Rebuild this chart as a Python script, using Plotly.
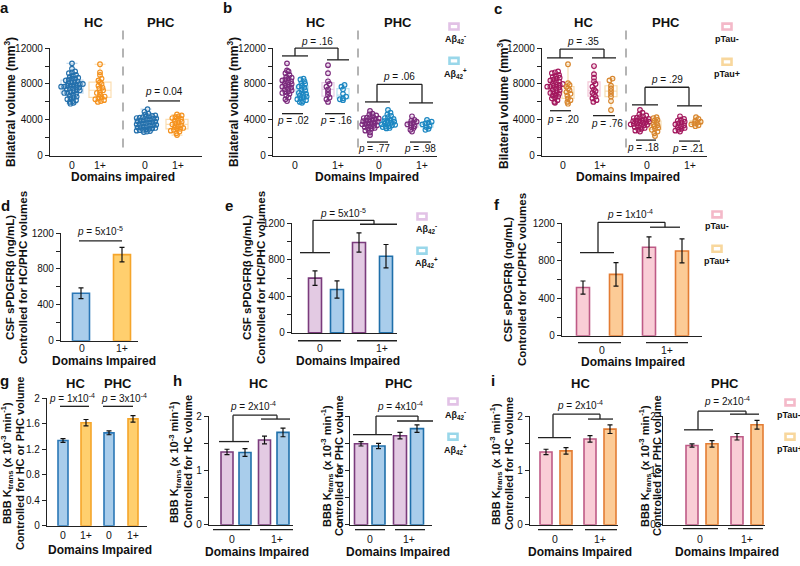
import numpy as np
import plotly.graph_objects as go

# ---------------- data ----------------
x_cats = ["0", "1+", "0", "1+"]

# panel a: bilateral volume (mm^3)
a_hc_0 = [10300, 9700, 9400, 9300, 9200, 9000, 8900, 8800, 8700, 8600, 8600, 8500, 8400, 8300, 8200, 8200,
          8100, 8000, 8000, 7900, 7900, 7800, 7800, 7700, 7700, 7600, 7600, 7500, 7500, 7400, 7300, 7300,
          7200, 7100, 7000, 7000, 6900, 6800, 6700, 6600, 6500, 6400, 6300, 6200, 6100, 6000, 5900, 5800]
a_hc_1 = [10200, 9300, 9000, 8600, 8400, 8200, 8000, 7800, 7600, 7500, 7300, 7100, 7000, 6800, 6600,
          6500, 6400, 6300, 6200, 6100, 6000]
a_phc_0 = [5200, 4900, 4700, 4600, 4500, 4450, 4400, 4350, 4300, 4250, 4200, 4150, 4100, 4050, 4000, 3950,
           3900, 3850, 3800, 3750, 3700, 3650, 3600, 3550, 3500, 3450, 3400, 3350, 3300, 3250, 3200, 3150,
           3100, 3050, 3000, 2950, 2900, 2850, 2800, 2750, 2700, 2650]
a_phc_1 = [4600, 4500, 4400, 4300, 4200, 4100, 4000, 3900, 3800, 3700, 3600, 3500, 3400, 3300, 3200,
           3100, 3000, 3000, 2900, 2800, 2700, 2500, 2300]

# panel b: by Abeta42 status (neg / pos)
b_hc0_neg = [10300, 9500, 9400, 9200, 9000, 8800, 8700, 8600, 8500, 8400, 8300, 8200, 8100, 8000, 7900,
             7800, 7700, 7600, 7500, 7400, 7300, 7200, 7100, 7000, 6900, 6700, 6500, 6300, 6100]
b_hc0_pos = [8600, 8500, 8300, 8100, 8000, 7800, 7700, 7600, 7400, 7300, 7100, 7000, 6900, 6800, 6700,
             6600, 6500, 6400, 6300, 6200, 6100, 6000, 5900]
b_hc1_neg = [10100, 9200, 8300, 8000, 7700, 7400, 7100, 6800, 6500, 6300, 6000]
b_hc1_pos = [7900, 7700, 7400, 6900, 6600, 6400, 6300, 6200]
b_phc0_neg = [5000, 4700, 4600, 4500, 4400, 4300, 4250, 4200, 4150, 4100, 4000, 3950, 3900, 3850, 3800,
              3700, 3650, 3600, 3550, 3500, 3400, 3350, 3300, 3250, 3200, 3100, 3000, 2900, 2800, 2600, 2300]
b_phc0_pos = [5100, 4800, 4600, 4450, 4300, 4200, 4100, 4000, 3900, 3850, 3800, 3700, 3650, 3600, 3500,
              3450, 3400, 3300, 3250, 3200, 3100, 3050]
b_phc1_neg = [4400, 4000, 3900, 3800, 3700, 3600, 3500, 3300, 3200, 3100, 2900, 2700]
b_phc1_pos = [4000, 3800, 3700, 3600, 3500, 3300, 3200, 3000, 2900]

# panel c: by pTau status (neg / pos)
c_hc0_neg = [9400, 9300, 9200, 9000, 8900, 8800, 8700, 8600, 8500, 8400, 8300, 8200, 8100, 8000, 7900,
             7900, 7800, 7700, 7700, 7600, 7500, 7400, 7300, 7200, 7100, 7000, 6900, 6800, 6700, 6600,
             6500, 6400, 6200, 6000, 5900]
c_hc0_pos = [10200, 8100, 7900, 7700, 7500, 7300, 7100, 6900, 6700, 6400, 6200, 6000, 5800]
c_hc1_neg = [10000, 9100, 8700, 8300, 8000, 7700, 7400, 7200, 7000, 6800, 6600, 6400, 6200, 6000]
c_hc1_pos = [8600, 8400, 7800, 7500, 7200, 6900, 6600, 6100, 5100]
c_phc0_neg = [5100, 4800, 4600, 4500, 4400, 4300, 4250, 4200, 4100, 4050, 4000, 3950, 3900, 3850, 3800,
              3750, 3700, 3650, 3600, 3550, 3500, 3450, 3400, 3350, 3300, 3200, 3100, 3000, 2900, 2800, 2700]
c_phc0_pos = [4300, 4200, 4000, 3900, 3700, 3500, 3400, 3300, 3100, 3000, 2900, 2700, 2500, 2200]
c_phc1_neg = [4400, 4100, 4000, 3900, 3800, 3700, 3600, 3500, 3400, 3300, 3200, 3100, 3000, 2900, 2800, 2700]
c_phc1_pos = [4300, 4100, 3900, 3800, 3700, 3600, 3500, 3400, 3300]

# panel d: CSF sPDGFRb (ng/mL)
d_mean = [530, 960]
d_err = [60, 80]
# panel e: Abeta42- / Abeta42+
e_neg_mean = [600, 990]
e_neg_err = [80, 105]
e_pos_mean = [475, 840]
e_pos_err = [95, 128]
# panel f: pTau- / pTau+
f_neg_mean = [515, 945]
f_neg_err = [70, 110]
f_pos_mean = [655, 905]
f_pos_err = [125, 128]
# panel g: BBB Ktrans, HC and PHC, 0 / 1+
g_mean = [1.34, 1.62, 1.46, 1.68]
g_err = [0.03, 0.05, 0.03, 0.05]
# panel h
h_hc_neg_mean = [1.34, 1.56]
h_hc_neg_err = [0.05, 0.07]
h_hc_pos_mean = [1.33, 1.70]
h_hc_pos_err = [0.07, 0.08]
h_phc_neg_mean = [1.49, 1.64]
h_phc_neg_err = [0.04, 0.06]
h_phc_pos_mean = [1.45, 1.77]
h_phc_pos_err = [0.05, 0.07]
# panel i
i_hc_neg_mean = [1.34, 1.58]
i_hc_neg_err = [0.05, 0.06]
i_hc_pos_mean = [1.36, 1.76]
i_hc_pos_err = [0.06, 0.08]
i_phc_neg_mean = [1.46, 1.62]
i_phc_neg_err = [0.03, 0.06]
i_phc_pos_mean = [1.49, 1.84]
i_phc_pos_err = [0.06, 0.08]

# ---------------- style ----------------
W, H = 800, 566
FONT = "Arial, 'Liberation Sans', sans-serif"
AX = "#222222"
TXT = "#111111"

A_BLUE, A_ORANGE = "#2470AC", "#F5921E"
A_BLUE_BOX, A_ORANGE_BOX = "#C6DCEE", "#FBDDB0"
B_PURPLE, B_BLUE = "#7B2B7D", "#1C87C2"
B_PURPLE_BOX, B_BLUE_BOX = "#E6CCE6", "#B9E2F1"
C_MAG, C_ORANGE = "#A3185E", "#D8862E"
C_MAG_BOX, C_ORANGE_BOX = "#F3C6D5", "#F6DCB0"

BLUE_FILL, BLUE_EDGE = "#A9CDEB", "#2A77B6"
ORANGE_FILL, ORANGE_EDGE = "#FFCF6E", "#F5A52A"
PURPLE_FILL, PURPLE_EDGE = "#E3CAE3", "#7A3B7C"
BLUE2_FILL, BLUE2_EDGE = "#A9CDEB", "#1F6FAA"
PINK_FILL, PINK_EDGE = "#F9CDD6", "#BE5A86"
ORANGE2_FILL, ORANGE2_EDGE = "#FCCB96", "#E37C33"

LEG_PURPLE, LEG_BLUE = "#E2C2E6", "#99D7EA"
LEG_PINK, LEG_ORANGE = "#F4B9C9", "#F8D79D"


def X(p):
    return p / W


def Y(p):
    return 1 - p / H


# pixel boxes of plot areas: left, right, top, bottom
PANELS = {
    'a': (50, 202, 43, 153),
    'b': (273, 437, 43, 153),
    'c': (542, 707, 43, 153),
    'd': (61, 138, 232, 342),
    'e': (292, 397, 222, 334),
    'f': (562, 702, 222, 337),
    'g': (47, 147, 401, 531),
    'h1': (209, 293, 419, 530),
    'h2': (350, 432, 419, 530),
    'i1': (530, 618, 419, 530),
    'i2': (663, 765, 419, 530),
}
AXIS_IDS = {k: i + 1 for i, k in enumerate(PANELS)}

fig = go.Figure()
layout = {}
shapes = []
annotations = []


def setup_axis(key, yrange, ytv, ytt, minor_vals, xtv=None, xtt=None):
    n = AXIS_IDS[key]
    l, r, t, b = PANELS[key]
    s = '' if n == 1 else str(n)
    xa = dict(domain=[X(l), X(r)], range=[0, r - l], anchor='y' + s, showline=True, linecolor=AX,
              linewidth=1.2, showgrid=False, zeroline=False, ticks='', fixedrange=True)
    if xtv is not None:
        xa.update(tickmode='array', tickvals=[v - l for v in xtv], ticktext=xtt,
                  tickfont=dict(size=10.5, color=TXT, family=FONT))
    else:
        xa.update(showticklabels=False)
    ya = dict(domain=[Y(b), Y(t)], range=yrange, anchor='x' + s, showline=True, linecolor=AX,
              linewidth=1.2, showgrid=False, zeroline=False, ticks='outside', ticklen=4, tickwidth=1,
              tickcolor=AX, tickmode='array', tickvals=ytv, ticktext=ytt,
              tickfont=dict(size=10, color=TXT, family=FONT), fixedrange=True)
    if minor_vals:
        ya['minor'] = dict(tickmode='array', tickvals=minor_vals, ticks='outside', ticklen=4,
                           tickwidth=1, tickcolor=AX, showgrid=False)
    layout['xaxis' + s] = xa
    layout['yaxis' + s] = ya
    return 'x' + s, 'y' + s


def swarm(values, px_per_unit, d=3.1, rowh=3.2):
    """Deterministic row-binned beeswarm: x offsets (px) for each value."""
    rows = {}
    for i, v in enumerate(values):
        rows.setdefault(int(v * px_per_unit // rowh), []).append(i)
    offs = [0.0] * len(values)
    for r, idx in rows.items():
        idx.sort(key=lambda i: values[i])
        n = len(idx)
        shift = 0.0 if r % 2 == 0 else d * 0.3
        for k, i in enumerate(idx):
            offs[i] = (k - (n - 1) / 2) * d + (shift if n > 1 else 0.0)
    return offs


def add_swarm(key, xa, ya, cx_px, values, color, boxcolor, boxw, ymax):
    l, r, t, b = PANELS[key]
    cx = cx_px - l
    q1, med, q3 = np.percentile(values, [25, 50, 75])
    fig.add_trace(go.Box(x=[cx], q1=[q1], median=[med], q3=[q3], lowerfence=[min(values)],
                         upperfence=[max(values)], width=boxw, xaxis=xa, yaxis=ya,
                         fillcolor='rgba(255,255,255,0)', line=dict(color=boxcolor, width=1.2),
                         whiskerwidth=0.5, boxpoints=False, hoverinfo='skip'))
    offs = swarm(values, (b - t) / ymax)
    fig.add_trace(go.Scatter(x=[cx + o for o in offs], y=values, xaxis=xa, yaxis=ya, mode='markers',
                             marker=dict(symbol='circle-open', size=4.6, color=color,
                                         line=dict(width=1.2, color=color)),
                             cliponaxis=False, hoverinfo='skip'))


def add_bars(key, xa, ya, centers_px, means, errs, fill, edge, width):
    l = PANELS[key][0]
    fig.add_trace(go.Bar(x=[c - l for c in centers_px], y=means, width=width, xaxis=xa, yaxis=ya,
                         marker=dict(color=fill, line=dict(color=edge, width=1.6)),
                         error_y=dict(type='data', array=errs, color='#111', thickness=1.2, width=2.5),
                         hoverinfo='skip'))


def line(x0, y0, x1, y1, color='#222', width=1.3, dash=None):
    sh = dict(type='line', xref='paper', yref='paper', x0=X(x0), y0=Y(y0), x1=X(x1), y1=Y(y1),
              line=dict(color=color, width=width))
    if dash:
        sh['line']['dash'] = dash
    shapes.append(sh)


def bracket(xl0, xl1, yl, xv, ytop, xr, yr, xr0, xr1):
    line(xl0, yl, xl1, yl)
    line(xv, yl, xv, ytop)
    line(xv, ytop, xr, ytop)
    line(xr, ytop, xr, yr)
    line(xr0, yr, xr1, yr)


def text(x, y, s, size=10, bold=False, angle=0, xanchor='center', color=TXT):
    if bold:
        s = '<b>' + s + '</b>'
    if angle == 0:
        y = y - 1
    annotations.append(dict(x=X(x), y=Y(y), xref='paper', yref='paper', text=s, showarrow=False,
                            xanchor=xanchor, yanchor='middle', textangle=angle,
                            font=dict(size=size, color=color, family=FONT)))


def letter(x, y, s):
    text(x, y - 3, s, 15, True)


def legend_box(x, y, color):
    shapes.append(dict(type='rect', xref='paper', yref='paper', x0=X(x - 4.5), x1=X(x + 4.5),
                       y0=Y(y + 3), y1=Y(y - 3), line=dict(color=color, width=2.6),
                       fillcolor='white'))


VOL_T = [0, 4000, 8000, 12000]
VOL_L = ['0', '4000', '8000', '12000']
VOL_M = [2000, 6000, 10000]
CSF_T = [0, 400, 800, 1200]
CSF_L = ['0', '400', '800', '1200']
CSF_M = [200, 600, 1000]
K_T = [0, 1, 2]
K_L = ['0', '1', '2']
K_M = [0.5, 1.5]

# ---------------- panel a ----------------
xa, ya = setup_axis('a', [0, 12000], VOL_T, VOL_L, VOL_M, [72, 100, 145, 178], x_cats)
add_swarm('a', xa, ya, 72, a_hc_0, A_BLUE, A_BLUE_BOX, 22, 12000)
add_swarm('a', xa, ya, 100, a_hc_1, A_ORANGE, A_ORANGE_BOX, 22, 12000)
add_swarm('a', xa, ya, 146, a_phc_0, A_BLUE, A_BLUE_BOX, 22, 12000)
add_swarm('a', xa, ya, 177, a_phc_1, A_ORANGE, A_ORANGE_BOX, 22, 12000)
line(123, 25, 123, 153, color='#777', width=1.1, dash='dash')
line(148, 97, 180, 97)
text(164, 88, '<i>p</i> = 0.04', 10)
text(93, 18, 'HC', 13, True)
text(161, 18, 'PHC', 13, True)
text(123, 176, 'Domains impaired', 12, True)
text(10, 98, 'Bilateral volume (mm<sup>3</sup>)', 12, True, -90)
letter(4, 6, 'a')

# ---------------- panel b ----------------
xa, ya = setup_axis('b', [0, 12000], VOL_T, VOL_L, VOL_M, [295, 338, 379, 422], x_cats)
add_swarm('b', xa, ya, 287, b_hc0_neg, B_PURPLE, B_PURPLE_BOX, 12, 12000)
add_swarm('b', xa, ya, 302, b_hc0_pos, B_BLUE, B_BLUE_BOX, 12, 12000)
add_swarm('b', xa, ya, 328, b_hc1_neg, B_PURPLE, B_PURPLE_BOX, 12, 12000)
add_swarm('b', xa, ya, 343, b_hc1_pos, B_BLUE, B_BLUE_BOX, 12, 12000)
add_swarm('b', xa, ya, 370, b_phc0_neg, B_PURPLE, B_PURPLE_BOX, 12, 12000)
add_swarm('b', xa, ya, 388, b_phc0_pos, B_BLUE, B_BLUE_BOX, 12, 12000)
add_swarm('b', xa, ya, 412, b_phc1_neg, B_PURPLE, B_PURPLE_BOX, 12, 12000)
add_swarm('b', xa, ya, 427, b_phc1_pos, B_BLUE, B_BLUE_BOX, 12, 12000)
line(358, 25, 358, 153, color='#777', width=1.1, dash='dash')
bracket(282, 308, 51, 295, 43, 338, 55, 327, 349)
text(317, 37, '<i>p</i> = .16', 10)
line(282, 110, 303, 110)
text(293, 118, '<i>p</i> = .02', 10)
line(325, 110, 345, 110)
text(336, 118, '<i>p</i> = .16', 10)
bracket(365, 390, 98, 377, 80, 422, 99, 409, 433)
text(399, 73, '<i>p</i> = .06', 10)
line(367, 139, 388, 139)
text(374, 147, '<i>p</i> = .77', 10)
line(410, 139, 431, 139)
text(420, 147, '<i>p</i> = .98', 10)
text(315, 18, 'HC', 13, True)
text(398, 18, 'PHC', 13, True)
text(367, 176, 'Domains Impaired', 12, True)
text(233, 98, 'Bilateral volume (mm<sup>3</sup>)', 12, True, -90)
letter(228, 6, 'b')
legend_box(454, 21, LEG_PURPLE)
text(455, 34, 'Aβ<sub>42</sub><sup>-</sup>', 9, True)
legend_box(454, 56, LEG_BLUE)
text(455, 70, 'Aβ<sub>42</sub><sup>+</sup>', 9, True)

# ---------------- panel c ----------------
xa, ya = setup_axis('c', [0, 12000], VOL_T, VOL_L, VOL_M, [563, 600, 647, 690], x_cats)
add_swarm('c', xa, ya, 555, c_hc0_neg, C_MAG, C_MAG_BOX, 12, 12000)
add_swarm('c', xa, ya, 568, c_hc0_pos, C_ORANGE, C_ORANGE_BOX, 12, 12000)
add_swarm('c', xa, ya, 594, c_hc1_neg, C_MAG, C_MAG_BOX, 12, 12000)
add_swarm('c', xa, ya, 611, c_hc1_pos, C_ORANGE, C_ORANGE_BOX, 12, 12000)
add_swarm('c', xa, ya, 640, c_phc0_neg, C_MAG, C_MAG_BOX, 12, 12000)
add_swarm('c', xa, ya, 655, c_phc0_pos, C_ORANGE, C_ORANGE_BOX, 12, 12000)
add_swarm('c', xa, ya, 680, c_phc1_neg, C_MAG, C_MAG_BOX, 12, 12000)
add_swarm('c', xa, ya, 696, c_phc1_pos, C_ORANGE, C_ORANGE_BOX, 12, 12000)
line(626, 25, 626, 153, color='#777', width=1.1, dash='dash')
bracket(547, 573, 53, 560, 44, 604, 53, 592, 616)
text(583, 37, '<i>p</i> = .35', 10)
line(550, 107, 571, 107)
text(563, 117, '<i>p</i> = .20', 10)
line(593, 112, 615, 112)
text(607, 121, '<i>p</i> = .76', 10)
bracket(632, 658, 101, 645, 83, 689, 102, 677, 702)
text(667, 76, '<i>p</i> = .29', 10)
line(636, 137, 656, 137)
text(643, 146, '<i>p</i> = .18', 10)
line(679, 138, 700, 138)
text(688, 147, '<i>p</i> = .21', 10)
text(583, 18, 'HC', 13, True)
text(666, 18, 'PHC', 13, True)
text(628, 176, 'Domains Impaired', 12, True)
text(503, 100, 'Bilateral volume (mm<sup>3</sup>)', 12, True, -90)
letter(498, 7, 'c')
legend_box(727, 21, LEG_PINK)
text(727, 35, 'pTau-', 9, True)
legend_box(727, 57, LEG_ORANGE)
text(727, 70, 'pTau+', 9, True)

# ---------------- panel d ----------------
xa, ya = setup_axis('d', [0, 1200], CSF_T, CSF_L, CSF_M)
add_bars('d', xa, ya, [81], d_mean[:1], d_err[:1], BLUE_FILL, BLUE_EDGE, 17)
add_bars('d', xa, ya, [122], d_mean[1:], d_err[1:], ORANGE_FILL, ORANGE_EDGE, 17)
line(79, 240, 122, 240)
text(100, 231, '<i>p</i> = 5x10<sup>-5</sup>', 10)
text(82, 350, '0', 10.5)
text(122, 350, '1+', 10.5)
text(104, 364, 'Domains Impaired', 12, True)
text(10, 278, 'CSF sPDGFRβ (ng/mL)', 11.5, True, -90)
text(23, 278, 'Controlled for HC/PHC volumes', 11.5, True, -90)
letter(5, 208, 'd')

# ---------------- panel e ----------------
xa, ya = setup_axis('e', [0, 1200], CSF_T, CSF_L, CSF_M)
add_bars('e', xa, ya, [315, 359], e_neg_mean, e_neg_err, PURPLE_FILL, PURPLE_EDGE, 13)
add_bars('e', xa, ya, [337, 386], e_pos_mean, e_pos_err, BLUE2_FILL, BLUE2_EDGE, 13)
bracket(300, 330, 252, 313, 219, 374, 223, 360, 397)
text(343, 212, '<i>p</i> = 5x10<sup>-5</sup>', 10)
line(298, 342, 341, 342)
line(357, 342, 397, 342)
text(320, 350, '0', 10.5)
text(382, 350, '1+', 10.5)
text(348, 364, 'Domains Impaired', 12, True)
text(247, 278, 'CSF sPDGFRβ (ng/mL)', 11.5, True, -90)
text(261, 278, 'Controlled for HC/PHC volumes', 11.5, True, -90)
letter(229, 208, 'e')
legend_box(422, 215, LEG_PURPLE)
text(426, 228, 'Aβ<sub>42</sub><sup>-</sup>', 9, True)
legend_box(422, 250, LEG_BLUE)
text(426, 263, 'Aβ<sub>42</sub><sup>+</sup>', 9, True)

# ---------------- panel f ----------------
xa, ya = setup_axis('f', [0, 1200], CSF_T, CSF_L, CSF_M)
add_bars('f', xa, ya, [583, 649], f_neg_mean, f_neg_err, PINK_FILL, PINK_EDGE, 13)
add_bars('f', xa, ya, [616, 682], f_pos_mean, f_pos_err, ORANGE2_FILL, ORANGE2_EDGE, 13)
bracket(580, 614, 252, 598, 221, 665, 226, 650, 680)
text(630, 213, '<i>p</i> = 1x10<sup>-4</sup>', 10)
line(578, 344, 621, 344)
line(646, 344, 688, 344)
text(602, 352, '0', 10.5)
text(667, 352, '1+', 10.5)
text(633, 365, 'Domains Impaired', 12, True)
text(508, 280, 'CSF sPDGFRβ (ng/mL)', 11.5, True, -90)
text(522, 280, 'Controlled for HC/PHC volumes', 11.5, True, -90)
letter(497, 207, 'f')
legend_box(717, 213, LEG_PINK)
text(717, 226, 'pTau-', 9, True)
legend_box(717, 248, LEG_ORANGE)
text(717, 262, 'pTau+', 9, True)

# ---------------- panel g ----------------
xa, ya = setup_axis('g', [0, 2], [0, 0.4, 0.8, 1.2, 1.6, 2], ['0', '0.4', '0.8', '1.2', '1.6', '2'],
                    None, [63, 86, 109, 133], x_cats)
add_bars('g', xa, ya, [63, 109], [g_mean[0], g_mean[2]], [g_err[0], g_err[2]], BLUE_FILL, BLUE_EDGE, 10)
add_bars('g', xa, ya, [86, 133], [g_mean[1], g_mean[3]], [g_err[1], g_err[3]], ORANGE_FILL, ORANGE_EDGE, 10)
line(60, 409, 89, 409)
line(103, 409, 133, 409)
text(72, 402, '<i>p</i> = 1x10<sup>-4</sup>', 10)
text(124, 402, '<i>p</i> = 3x10<sup>-4</sup>', 10)
text(75, 387, 'HC', 13, True)
text(118, 387, 'PHC', 13, True)
text(100, 557, 'Domains Impaired', 12, True)
text(7, 467, 'BBB K<sub>trans</sub> (x 10<sup>-3</sup> min<sup>-1</sup>)', 11, True, -90)
text(20, 467, 'Controlled for HC or PHC volume', 11, True, -90)
letter(4, 387, 'g')

# ---------------- panel h ----------------
xa, ya = setup_axis('h1', [0, 2], K_T, K_L, K_M)
add_bars('h1', xa, ya, [227, 264.5], h_hc_neg_mean, h_hc_neg_err, PURPLE_FILL, PURPLE_EDGE, 12)
add_bars('h1', xa, ya, [245, 283], h_hc_pos_mean, h_hc_pos_err, BLUE2_FILL, BLUE2_EDGE, 12)
bracket(219, 249, 445, 233, 418, 277, 422, 261, 290)
text(253, 410, '<i>p</i> = 2x10<sup>-4</sup>', 10)
line(213, 535, 250, 535)
line(260, 535, 293, 535)
text(232, 546, '0', 10.5)
text(277, 546, '1+', 10.5)
text(258, 387, 'HC', 13, True)
text(257, 559, 'Domains Impaired', 12, True)
text(175, 466, 'BBB K<sub>trans</sub> (x 10<sup>-3</sup> min<sup>-1</sup>)', 11, True, -90)
text(188, 466, 'Controlled for HC volume', 11, True, -90)
letter(177, 387, 'h')

xa, ya = setup_axis('h2', [0, 2], K_T, K_L, K_M)
add_bars('h2', xa, ya, [361, 400], h_phc_neg_mean, h_phc_neg_err, PURPLE_FILL, PURPLE_EDGE, 13)
add_bars('h2', xa, ya, [378.5, 417], h_phc_pos_mean, h_phc_pos_err, BLUE2_FILL, BLUE2_EDGE, 13)
bracket(353, 392, 438, 376, 419, 418, 424, 397, 433)
text(400, 410, '<i>p</i> = 4x10<sup>-4</sup>', 10)
line(355, 535, 385, 535)
line(395, 535, 425, 535)
text(370, 546, '0', 10.5)
text(409, 546, '1+', 10.5)
text(399, 387, 'PHC', 13, True)
text(398, 559, 'Domains Impaired', 12, True)
text(327, 470, 'BBB K<sub>trans</sub> (x 10<sup>-3</sup> min<sup>-1</sup>)', 11, True, -90)
text(339, 470, 'Controlled for PHC volume', 11, True, -90)
legend_box(453, 404, LEG_PURPLE)
text(455, 418, 'Aβ<sub>42</sub><sup>-</sup>', 9, True)
legend_box(453, 440, LEG_BLUE)
text(455, 454, 'Aβ<sub>42</sub><sup>+</sup>', 9, True)

# ---------------- panel i ----------------
xa, ya = setup_axis('i1', [0, 2], K_T, K_L, K_M)
add_bars('i1', xa, ya, [546, 590], i_hc_neg_mean, i_hc_neg_err, PINK_FILL, PINK_EDGE, 12)
add_bars('i1', xa, ya, [566, 610], i_hc_pos_mean, i_hc_pos_err, ORANGE2_FILL, ORANGE2_EDGE, 12)
bracket(538, 571, 441, 553, 417, 600, 422, 588, 613)
text(580, 409, '<i>p</i> = 2x10<sup>-4</sup>', 10)
line(538, 535, 573, 535)
line(585, 535, 617, 535)
text(555, 546, '0', 10.5)
text(600, 546, '1+', 10.5)
text(580, 387, 'HC', 13, True)
text(580, 559, 'Domains Impaired', 12, True)
text(496, 468, 'BBB K<sub>trans</sub> (x 10<sup>-3</sup> min<sup>-1</sup>)', 11, True, -90)
text(509, 468, 'Controlled for HC volume', 11, True, -90)
letter(493, 387, 'i')

xa, ya = setup_axis('i2', [0, 2], K_T, K_L, K_M)
add_bars('i2', xa, ya, [692, 737], i_phc_neg_mean, i_phc_neg_err, PINK_FILL, PINK_EDGE, 12)
add_bars('i2', xa, ya, [712, 757], i_phc_pos_mean, i_phc_pos_err, ORANGE2_FILL, ORANGE2_EDGE, 12)
bracket(684, 713, 433, 698, 414, 746, 417, 730, 759)
text(727, 405, '<i>p</i> = 2x10<sup>-4</sup>', 10)
line(683, 534, 718, 534)
line(728, 534, 763, 534)
text(700, 546, '0', 10.5)
text(747, 546, '1+', 10.5)
text(725, 387, 'PHC', 13, True)
text(727, 559, 'Domains Impaired', 12, True)
text(645, 470, 'BBB K<sub>trans</sub> (x 10<sup>-3</sup> min<sup>-1</sup>)', 11, True, -90)
text(657, 470, 'Controlled for PHC volume', 11, True, -90)
legend_box(790, 405, LEG_PINK)
text(775, 419, 'pTau-', 9, True, xanchor='left')
legend_box(790, 440, LEG_ORANGE)
text(775, 454, 'pTau+', 9, True, xanchor='left')

layout.update(width=W, height=H, margin=dict(l=0, r=0, t=0, b=0), paper_bgcolor='white',
              plot_bgcolor='rgba(0,0,0,0)', showlegend=False, barmode='overlay', boxmode='overlay',
              font=dict(family=FONT, color=TXT), shapes=shapes, annotations=annotations)
fig.update_layout(**layout)
fig.write_html("out.html", config={'displayModeBar': False},
               post_script="document.body.style.margin='0px';document.body.style.padding='0px';")
